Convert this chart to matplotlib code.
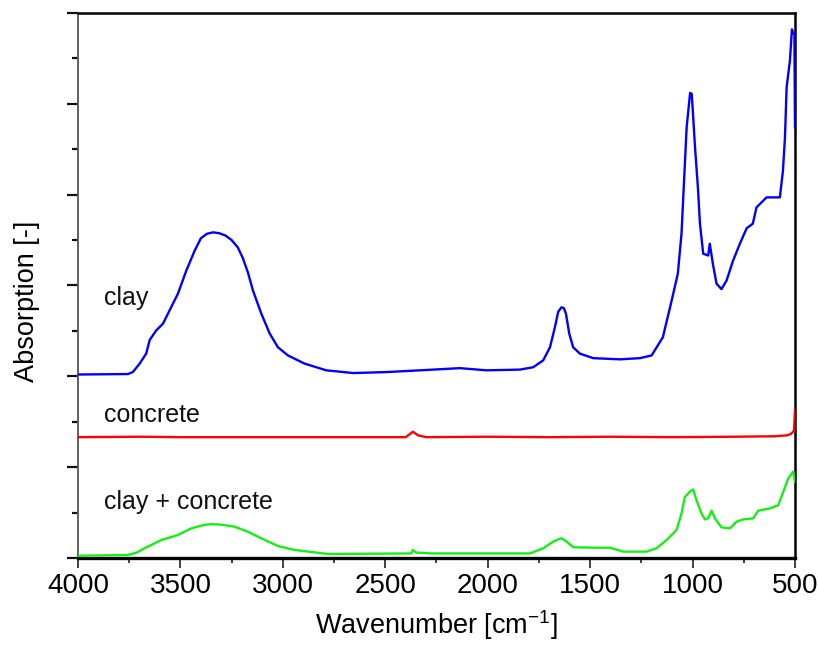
import matplotlib
matplotlib.use("Agg")
import matplotlib.pyplot as plt
from matplotlib.ticker import MultipleLocator, NullFormatter

plt.rcParams['font.family'] = ['Liberation Sans', 'DejaVu Sans']

# FTIR absorption spectra (offset stacked, arbitrary units)
clay_wn = [4000, 3756, 3732, 3699, 3667, 3650, 3618, 3585, 3553, 3512, 3471, 3430,
           3400, 3370, 3340, 3310, 3280, 3250, 3220, 3195, 3170, 3146, 3105, 3064,
           3024, 2975, 2930, 2894, 2788,
           2656, 2493, 2331, 2136, 2005, 1843, 1778, 1729, 1696, 1672, 1656, 1640,
           1628, 1618, 1602, 1583, 1550, 1485, 1355, 1257, 1200, 1145, 1102, 1072, 1054,
           1029, 1012, 1004, 988, 974, 964, 948, 924, 916, 901, 883, 859, 834, 803, 769,
           736, 706, 688, 639, 574, 559, 549, 541, 525, 515, 509, 503, 500]
clay_abs = [2.02, 2.025, 2.047, 2.14, 2.25, 2.40, 2.505, 2.58, 2.725, 2.91, 3.165, 3.385,
            3.52, 3.57, 3.585, 3.575, 3.55, 3.50, 3.42, 3.30, 3.14, 2.945, 2.69, 2.47,
            2.32, 2.23, 2.18, 2.14, 2.066,
            2.036, 2.047, 2.066, 2.09, 2.066, 2.074, 2.10, 2.176, 2.32, 2.54, 2.71, 2.76,
            2.75, 2.69, 2.47, 2.32, 2.25, 2.20, 2.187, 2.20, 2.23, 2.43, 2.835, 3.13, 3.57,
            4.74, 5.12, 5.11, 4.52, 4.08, 3.68, 3.35, 3.33, 3.46, 3.24, 3.02, 2.96, 3.055, 3.27, 3.46,
            3.63, 3.68, 3.86, 3.97, 3.97, 4.26, 4.63, 5.18, 5.47, 5.82, 5.78, 5.77, 4.74]

concrete_wn = [4000, 3700, 3500, 3200, 2900, 2600, 2400, 2365, 2340, 2300, 2000,
               1700, 1400, 1100, 800, 600, 540, 520, 510, 505, 500]
concrete_abs = [1.33, 1.335, 1.33, 1.33, 1.33, 1.33, 1.33, 1.39, 1.35, 1.33, 1.335,
                1.33, 1.335, 1.33, 1.335, 1.34, 1.35, 1.365, 1.39, 1.40, 1.63]

mix_wn = [4000, 3756, 3715, 3675, 3593, 3512, 3447, 3382, 3350, 3317, 3280, 3235, 3170, 3105,
          3024, 2942, 2780, 2373, 2365, 2350, 2276, 2120, 1794, 1729, 1680, 1650, 1639,
          1615, 1582, 1468, 1404, 1338, 1225, 1176, 1127, 1078, 1054, 1038, 1013,
          997, 981, 956, 940, 924, 907, 891, 859, 818, 785, 753, 704, 680, 623,
          582, 557, 533, 509, 500]
mix_abs = [0.025, 0.033, 0.058, 0.107, 0.198, 0.253, 0.326, 0.365, 0.372, 0.37, 0.36, 0.344, 0.289, 0.216,
           0.132, 0.088, 0.044, 0.05, 0.088, 0.06, 0.05, 0.05, 0.05, 0.107, 0.18, 0.21, 0.216,
           0.18, 0.118, 0.113, 0.113, 0.07, 0.07, 0.107, 0.198, 0.308, 0.49, 0.67, 0.73,
           0.755, 0.637, 0.49, 0.425, 0.436, 0.52, 0.436, 0.337, 0.326, 0.40, 0.425, 0.436, 0.52, 0.546,
           0.58, 0.73, 0.876, 0.95, 0.84]

series_labels = ["clay", "concrete", "clay + concrete"]
label_pos = [(3875, 2.78), (3875, 1.50), (3875, 0.54)]

fig = plt.figure(figsize=(8.19, 6.53), dpi=100)
ax = fig.add_axes([0.0952, 0.1455, 0.8755, 0.8346])

ax.plot(clay_wn, clay_abs, color='#0000ff', lw=1.7, zorder=3)
ax.plot(concrete_wn, concrete_abs, color='#ff0000', lw=1.7, zorder=3)
ax.plot(mix_wn, mix_abs, color='#16ee16', lw=1.7, zorder=3)

for txt, (x, y) in zip(series_labels, label_pos):
    ax.text(x, y, txt, fontsize=18, color='#111111', ha='left', va='baseline')

ax.set_xlim(4000, 500)
ax.set_ylim(0, 6)
ax.xaxis.set_major_locator(MultipleLocator(500))
ax.xaxis.set_minor_locator(MultipleLocator(250))
ax.yaxis.set_major_locator(MultipleLocator(1))
ax.yaxis.set_minor_locator(MultipleLocator(0.5))
ax.yaxis.set_major_formatter(NullFormatter())

ax.tick_params(axis='x', which='major', direction='out', length=7.5, width=1.3,
               color='#333333', labelsize=20, pad=3)
ax.tick_params(axis='x', which='minor', direction='out', length=3.5, width=1.3, color='#333333')
ax.tick_params(axis='y', which='major', direction='out', length=8, width=1.6, color='#111111')
ax.tick_params(axis='y', which='minor', direction='out', length=4.5, width=1.6, color='#111111')

ax.spines['left'].set_color('#555555')
ax.spines['left'].set_linewidth(1.3)
ax.spines['bottom'].set_linewidth(2.4)
ax.spines['top'].set_linewidth(1.8)
ax.spines['right'].set_linewidth(1.8)
for s in ['bottom', 'top', 'right']:
    ax.spines[s].set_color('#000000')

ax.set_xlabel(r"Wavenumber [cm$^{\mathregular{-1}}$]", fontsize=19.5, labelpad=7)
ax.set_ylabel("Absorption [-]", fontsize=19.5)
ax.yaxis.set_label_coords(-0.053, 0.47)

fig.savefig("out.png", dpi=100)
